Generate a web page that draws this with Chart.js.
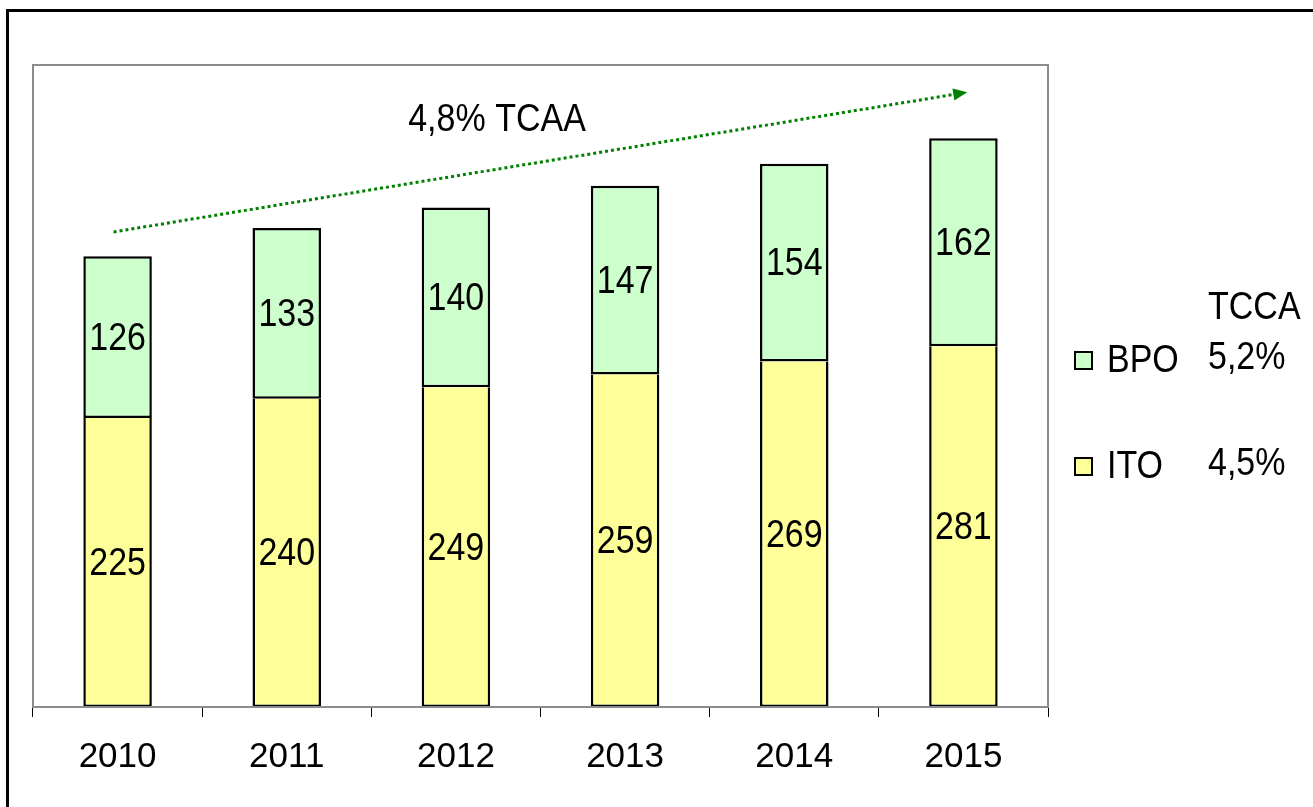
<!DOCTYPE html>
<html>
	<head>
		<script src="https://cdn.jsdelivr.net/npm/chart.js@4"></script>
		<style>
			body { margin: 0; background: #fff; }
			#wrap { width: 1313px; height: 807px; }
		</style>
	</head>
	<body>
		<div id="wrap"><canvas id="myChart"></canvas></div>
		<script>
			// Data
			let years = ['2010', '2011', '2012', '2013', '2014', '2015'];
			let ito = [225, 240, 249, 259, 269, 281];
			let bpo = [126, 133, 140, 147, 154, 162];
			let seriesNames = ['ITO', 'BPO'];
			let growth = ['4,5%', '5,2%'];   // TCCA per series
			let growthTitle = 'TCCA';
			let trendLabel = '4,8% TCAA';
			let trendFrom = 370, trendTo = 477; // arrow ends, in value units

			let font = "'Liberation Sans', Arial, sans-serif";

			// text is a bit taller than wide in the original
			function tallText(c, txt, x, y) {
				c.save();
				c.translate(x, y);
				c.scale(1, 1.12);
				c.fillText(txt, 0, 0);
				c.restore();
			}

			// Frame, plot border, value labels, trend arrow and legend
			let extras = {
				id: 'extras',
				beforeDraw(chart) {
					let c = chart.ctx;
					c.save();
					c.fillStyle = '#fff';
					c.fillRect(0, 0, chart.width, chart.height);
					c.strokeStyle = '#000';
					c.lineWidth = 3;
					c.strokeRect(7.5, 10.5, chart.width, chart.height);
					c.restore();
				},
				afterDatasetsDraw(chart) {
					let c = chart.ctx;
					let a = chart.chartArea;
					let x = chart.scales.x, y = chart.scales.y;
					c.save();

					// plot border
					c.strokeStyle = '#8c8c8c';
					c.lineWidth = 2;
					c.strokeRect(a.left, a.top, a.right - a.left, a.bottom - a.top);

					// value labels
					c.fillStyle = '#000';
					c.font = '34px ' + font;
					c.textAlign = 'center';
					c.textBaseline = 'middle';
					chart.data.datasets.forEach((ds, i) => {
						chart.getDatasetMeta(i).data.forEach((bar, j) => {
							tallText(c, ds.data[j], bar.x, (bar.y + bar.base) / 2 + 2);
						});
					});

					// trend arrow
					let x0 = x.getPixelForValue(0) - 4, y0 = y.getPixelForValue(trendFrom);
					let x1 = x.getPixelForValue(years.length - 1) - 10, y1 = y.getPixelForValue(trendTo);
					c.strokeStyle = '#008000';
					c.lineWidth = 3;
					c.setLineDash([3, 3]);
					c.beginPath();
					c.moveTo(x0, y0);
					c.lineTo(x1, y1);
					c.stroke();
					c.setLineDash([]);
					let ang = Math.atan2(y1 - y0, x1 - x0);
					c.fillStyle = '#008000';
					c.beginPath();
					c.moveTo(x1 + 14 * Math.cos(ang), y1 + 14 * Math.sin(ang));
					c.lineTo(x1 + 6 * Math.sin(ang), y1 - 6 * Math.cos(ang));
					c.lineTo(x1 - 6 * Math.sin(ang), y1 + 6 * Math.cos(ang));
					c.closePath();
					c.fill();

					c.fillStyle = '#000';
					tallText(c, trendLabel, 497, 120);

					// legend
					c.textAlign = 'left';
					tallText(c, growthTitle, 1208, 308);
					let rows = [{ds: 1, y: 360}, {ds: 0, y: 466}];
					rows.forEach(r => {
						let ds = chart.data.datasets[r.ds];
						c.fillStyle = ds.backgroundColor;
						c.fillRect(1075, r.y - 8, 17, 17);
						c.strokeStyle = '#000';
						c.lineWidth = 2;
						c.strokeRect(1075, r.y - 8, 17, 17);
						c.fillStyle = '#000';
						tallText(c, ds.label, 1107, r.y + 1);
						tallText(c, growth[r.ds], 1208, r.y - 2);
					});
					c.restore();
				}
			};

			let ctx = document.getElementById('myChart').getContext('2d');
			let chart = new Chart(ctx, {
				type: 'bar',
				data: {
					labels: years,
					datasets: [{
						label: seriesNames[0],
						data: ito,
						backgroundColor: '#ffff99',
						borderColor: '#000',
						borderWidth: 2.5,
						borderSkipped: 'top'
					}, {
						label: seriesNames[1],
						data: bpo,
						backgroundColor: '#ccffcc',
						borderColor: '#000',
						borderWidth: 2.5,
						borderSkipped: false
					}]
				},
				options: {
					responsive: true,
					maintainAspectRatio: false,
					animation: false,
					events: [],
					layout: { padding: { left: 33, top: 65, right: 265, bottom: 0 } },
					datasets: { bar: { categoryPercentage: 1, barPercentage: 0.405 } },
					plugins: { legend: { display: false }, tooltip: { enabled: false } },
					scales: {
						x: {
							stacked: true,
							offset: true,
							afterFit(s) { s.height = 100; },
							grid: {
								offset: true,
								drawOnChartArea: false,
								color: '#000',
								tickLength: 10
							},
							border: { color: '#555', width: 2 },
							ticks: { color: '#000', font: { family: font, size: 35 }, padding: 19 }
						},
						y: {
							stacked: true,
							display: false,
							min: 0,
							max: 500
						}
					}
				},
				plugins: [extras]
			});
		</script>
	</body>
</html>
